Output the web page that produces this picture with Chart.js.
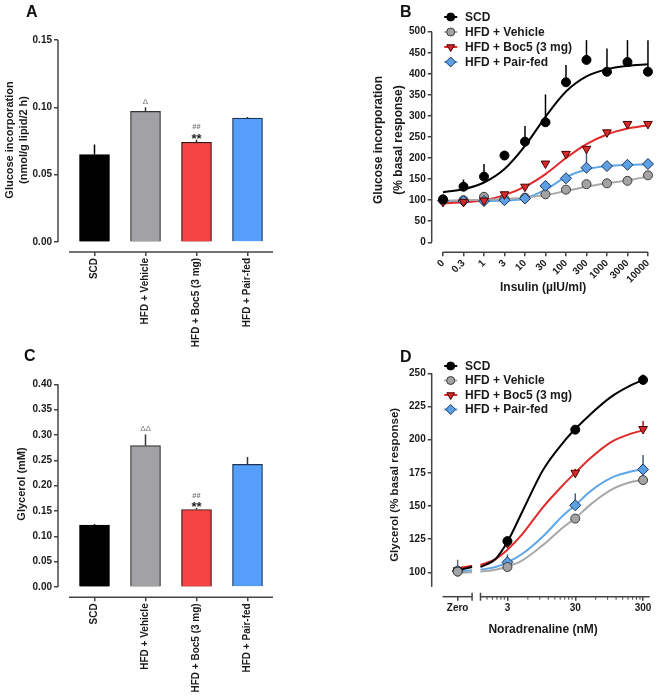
<!DOCTYPE html>
<html>
<head>
<meta charset="utf-8">
<script src="https://cdn.jsdelivr.net/npm/chart.js@4.4.1/dist/chart.umd.min.js"></script>
<style>
  body { margin: 0; background: #fff; }
  #fig { position: relative; width: 661px; height: 697px; overflow: hidden; background: #fff; }
  canvas { position: absolute; }
  .tag { position: absolute; font: bold 16px/16px "Liberation Sans", Arial, sans-serif; color: #111; }
</style>
</head>
<body>
<div id="fig">
  <canvas id="chartA" width="330" height="352" style="left:0;top:0"></canvas>
  <canvas id="chartC" width="330" height="357" style="left:0;top:340px"></canvas>
  <canvas id="chartB" width="331" height="340" style="left:330px;top:0"></canvas>
  <canvas id="chartD" width="331" height="357" style="left:330px;top:340px"></canvas>
  <div class="tag" style="left:26px;top:4px">A</div>
  <div class="tag" style="left:400px;top:4px">B</div>
  <div class="tag" style="left:24px;top:348px">C</div>
  <div class="tag" style="left:400px;top:349px">D</div>
</div>
<script>
// groups
const CATEGORIES = ['SCD', 'HFD + Vehicle', 'HFD + Boc5 (3 mg)', 'HFD + Pair-fed'];

// A - glucose incorporation (bars)
const glucoseMean = [0.065, 0.097, 0.074, 0.092];
const glucoseSem = [0.0074, 0.003, 0.002, 0.0008];
const glucoseSig = ['', 'Δ', '**', ''];
const glucoseHash = ['', '', '##', ''];
const glucoseTicks = [0, 0.05, 0.10, 0.15];

// C - glycerol (bars)
const glycerolMean = [0.122, 0.279, 0.153, 0.242];
const glycerolSem = [0.002, 0.022, 0.003, 0.0145];
const glycerolSig = ['', 'ΔΔ', '**', ''];
const glycerolHash = ['', '', '##', ''];
const glycerolTicks = [0, 0.05, 0.10, 0.15, 0.20, 0.25, 0.30, 0.35, 0.40];

// B - insulin dose response, one point per dose (equally spaced)
const insulinLabels = ['0', '0.3', '1', '3', '10', '30', '100', '300', '1000', '3000', '10000'];
const insScd = [102, 132, 156, 206, 239, 285, 380, 433, 405, 428, 405];
const insScdSem = [4, 17, 30, 4, 37, 66, 41, 47, 55, 52, 75];
const insVeh = [100, 100, 108, 103, 106, 114, 125, 138, 140, 146, 159];
const insVehSem = [3, 3, 3, 3, 3, 4, 4, 4, 4, 4, 4];
const insBoc = [96, 96, 99, 114, 132, 187, 210, 222, 261, 281, 281];
const insBocSem = [3, 3, 3, 3, 4, 5, 5, 6, 6, 6, 5];
const insPair = [99, 98, 98, 100, 104, 134, 152, 177, 181, 184, 186];
const insPairSem = [3, 3, 3, 3, 3, 5, 5, 35, 5, 5, 5];
// fitted curves at each dose
const fitInsScd = [119, 126, 142, 174, 229, 298, 358, 394, 411, 419, 423];
const fitInsVeh = [99, 100, 101, 103, 106, 112, 122, 132, 140, 147, 156];
const fitInsBoc = [93, 95, 100, 112, 132, 162, 200, 233, 256, 270, 278];
const fitInsPair = [98, 98, 98, 99, 104, 125, 155, 173, 181, 184, 185];
const insTicks = [0, 50, 100, 150, 200, 250, 300, 350, 400, 450, 500];

// D - noradrenaline dose response
const noradConc = [0, 3, 30, 300];
const noradLabels = ['Zero', '3', '30', '300'];
const norScd = [101, 123.5, 207.5, 245];
const norScdSem = [3, 2, 2, 4];
const norVeh = [100.5, 104, 140.5, 169.5];
const norVehSem = [9, 2, 2, 2];
const norBoc = [101.5, 122, 175, 208];
const norBocSem = [3, 2, 3, 6];
const norPair = [101, 107.5, 150.5, 177.5];
const norPairSem = [3, 6, 9, 11];
// fitted curves: short piece beside "Zero", then the log part
const fitZeroScd = [101.5, 104];
const fitZeroVeh = [99.5, 100];
const fitZeroBoc = [103, 105];
const fitZeroPair = [100.5, 101.5];
const noradFitConc = [1.2, 2, 3, 5, 10, 20, 30, 50, 100, 200, 300];
const fitNorScd = [104, 110, 123, 146, 177, 198, 208, 219, 232, 241, 245];
const fitNorVeh = [100.5, 102, 104.3, 109, 120.5, 134, 140.7, 151, 162, 168, 169.6];
const fitNorBoc = [105.5, 110, 117, 129, 149, 166, 175, 186, 198, 204.5, 207];
const fitNorPair = [102, 104, 107.5, 114, 127, 143, 150.5, 161, 171, 176, 177.5];
const norTicks = [100, 125, 150, 175, 200, 225, 250];

// broken log axis layout (log10 units); minor ticks sit at 3k x 10^n
const ZERO_POS = -0.257;
const BREAK_LO = -0.044, BREAK_HI = 0.08;
const MINOR_TICKS = [1.5, 1.8, 2.1, 2.4, 2.7, 6, 9, 12, 15, 18, 21, 24, 27, 60, 90, 120, 150, 180, 210, 240, 270];

const FONT = '"Liberation Sans", Arial, Helvetica, sans-serif';
const AXIS = '#444';
Chart.defaults.font.family = FONT;
Chart.defaults.font.size = 10;
Chart.defaults.font.weight = 'bold';
Chart.defaults.color = '#1a1a1a';

const BAR_FILL = ['#000000', '#a2a1a6', '#f44343', '#559ffa'];
const BAR_EDGE = ['#000000', '#333333', '#3a1515', '#1d3553'];

const STYLE = {
  scd:  { shape: 'circle', rot: 0, r: 4.5, fill: '#000000', edge: '#000000', line: '#000000', err: '#000000' },
  veh:  { shape: 'circle', rot: 0, r: 4.5, fill: '#a3a3a3', edge: '#3a3a3a', line: '#a8a8a8', err: '#666666' },
  boc:  { shape: 'triangle', rot: 180, r: 5, fill: '#d62b2b', edge: '#4a0000', line: '#e02a2a', err: '#a01818' },
  pair: { shape: 'rectRot', rot: 0, r: 5.5, fill: '#5c9fe3', edge: '#1d3657', line: '#5ea6ea', err: '#44627f' }
};

function line(ctx, x1, y1, x2, y2) {
  ctx.beginPath(); ctx.moveTo(x1, y1); ctx.lineTo(x2, y2); ctx.stroke();
}

// prism style detached axes
const axisLines = {
  id: 'axisLines',
  beforeDatasetsDraw(chart, args, o) {
    const { ctx, chartArea, scales: { x, y } } = chart;
    ctx.save();
    ctx.strokeStyle = AXIS;
    ctx.lineWidth = 1.5;
    line(ctx, chartArea.left, y.getPixelForValue(o.yFrom), chartArea.left, y.getPixelForValue(o.yTo));
    const by = chartArea.bottom;
    o.xSegments.forEach(([a, b]) => line(ctx, x.getPixelForValue(a), by, x.getPixelForValue(b), by));
    (o.xCaps || []).forEach(v => { const px = x.getPixelForValue(v); line(ctx, px, by - 4, px, by + 4); });
    ctx.lineWidth = 1;
    (o.xMinor || []).forEach(v => { const px = x.getPixelForValue(v); line(ctx, px, by, px, by + 3); });
    ctx.restore();
  }
};

// upward error bars
const errorBars = {
  id: 'errorBars',
  beforeDatasetsDraw(chart) {
    const { ctx, scales: { y } } = chart;
    chart.data.datasets.forEach((ds, di) => {
      if (!ds.sem) return;
      const meta = chart.getDatasetMeta(di);
      ctx.save();
      ctx.lineWidth = 1.5;
      meta.data.forEach((el, i) => {
        const e = ds.sem[i];
        if (!e) return;
        ctx.strokeStyle = Array.isArray(ds.errColor) ? ds.errColor[i] : ds.errColor;
        line(ctx, el.x, el.y, el.x, y.getPixelForValue(ds.data[i].y + e));
      });
      ctx.restore();
    });
  }
};

// Δ, ** and ## above bars
const sigMarks = {
  id: 'sigMarks',
  afterDatasetsDraw(chart) {
    const { ctx, scales: { y } } = chart;
    chart.data.datasets.forEach((ds, di) => {
      if (!ds.sig) return;
      chart.getDatasetMeta(di).data.forEach((el, i) => {
        const top = y.getPixelForValue(ds.data[i].y + (ds.sem[i] || 0));
        ctx.save();
        ctx.textAlign = 'center';
        const s = ds.sig[i];
        if (s.includes('Δ')) {
          ctx.fillStyle = '#777';
          ctx.font = '8px ' + FONT;
          ctx.textBaseline = 'middle';
          ctx.fillText(s, el.x, top - 6);
        } else if (s) {
          ctx.fillStyle = '#222';
          ctx.font = 'bold 13px ' + FONT;
          ctx.textBaseline = 'alphabetic';
          ctx.fillText(s, el.x, top + 3.5);
        }
        if (ds.hash[i]) {
          ctx.fillStyle = '#777';
          ctx.font = 'bold 7.5px ' + FONT;
          ctx.textBaseline = 'middle';
          ctx.fillText(ds.hash[i], el.x, top - 12.5);
        }
        ctx.restore();
      });
    });
  }
};

// legend: line segment + marker + label
const seriesLegend = {
  id: 'seriesLegend',
  afterDraw(chart, args, o) {
    const ctx = chart.ctx;
    const items = chart.data.datasets.filter(d => d.label).sort((a, b) => a.rank - b.rank);
    items.forEach((ds, k) => {
      const y = o.y + k * o.dy;
      ctx.save();
      ctx.strokeStyle = ds.lineColor;
      ctx.lineWidth = 2;
      line(ctx, o.x - 6.5, y, o.x + 6.5, y);
      ctx.fillStyle = ds.pointBackgroundColor;
      ctx.strokeStyle = ds.pointBorderColor;
      ctx.lineWidth = 1;
      const opts = { pointStyle: ds.pointStyle, rotation: ds.pointRotation, radius: ds.pointRadius - 0.5, borderWidth: 1 };
      if (Chart.helpers && Chart.helpers.drawPoint) {
        Chart.helpers.drawPoint(ctx, opts, o.x, y);
      } else {
        ctx.beginPath(); ctx.arc(o.x, y, opts.radius, 0, Math.PI * 2); ctx.fill(); ctx.stroke();
      }
      ctx.fillStyle = '#1a1a1a';
      ctx.font = 'bold 12px ' + FONT;
      ctx.textAlign = 'left';
      ctx.textBaseline = 'middle';
      ctx.fillText(ds.label, o.textX, y + 0.5);
      ctx.restore();
    });
  }
};

const tickGrid = { drawOnChartArea: false, drawTicks: true, tickLength: 4, color: AXIS, lineWidth: 1.5, offset: false };

function barChart(id, o) {
  return new Chart(document.getElementById(id), {
    type: 'bar',
    data: {
      datasets: [{
        data: o.mean.map((v, i) => ({ x: i, y: v })),
        sem: o.sem, sig: o.sig, hash: o.hash,
        backgroundColor: BAR_FILL, borderColor: BAR_EDGE, borderWidth: 1.2,
        barThickness: 30, errColor: ['#000', '#333', '#333', '#333']
      }]
    },
    options: {
      responsive: false, animation: false, events: [],
      layout: { padding: { top: o.top, left: 0, right: 57, bottom: 0 } },
      scales: {
        x: {
          type: 'linear', min: -0.7157, max: 3.5, offset: false, bounds: 'data',
          afterBuildTicks: s => { s.ticks = CATEGORIES.map((_, i) => ({ value: i })); },
          afterFit: s => { s.height = o.xHeight; },
          grid: tickGrid, border: { display: false },
          ticks: { autoSkip: false, minRotation: 90, maxRotation: 90, padding: 2, callback: v => CATEGORIES[v] }
        },
        y: {
          type: 'linear', min: o.min, max: o.max, bounds: 'data',
          afterBuildTicks: s => { s.ticks = o.ticks.map(v => ({ value: v })); },
          afterFit: s => { s.width = 58; },
          grid: tickGrid, border: { display: false },
          ticks: { padding: 2, callback: v => v.toFixed(2) },
          title: { display: true, text: o.title, color: '#1a1a1a', font: { size: 11, weight: 'bold', lineHeight: 1.27 }, padding: { top: o.titlePad, bottom: 0 } }
        }
      },
      plugins: {
        legend: { display: false }, tooltip: { enabled: false },
        axisLines: { yFrom: 0, yTo: o.ticks[o.ticks.length - 1], xSegments: [[-0.5, 3.5]] }
      }
    },
    plugins: [axisLines, errorBars, sigMarks]
  });
}

function pointSet(label, st, xs, ys, sem, rank, order) {
  return {
    label, rank, order, sem,
    data: xs.map((x, i) => ({ x, y: ys[i] })),
    showLine: false, clip: false,
    pointStyle: st.shape, pointRotation: st.rot, pointRadius: st.r,
    pointBackgroundColor: st.fill, pointBorderColor: st.edge, pointBorderWidth: 1,
    lineColor: st.line, errColor: st.err
  };
}
function curveSet(st, pts) {
  return {
    data: pts, showLine: true, pointRadius: 0, borderColor: st.line, borderWidth: 2,
    cubicInterpolationMode: 'monotone', spanGaps: false, fill: false, clip: false, order: 10
  };
}

barChart('chartA', {
  mean: glucoseMean, sem: glucoseSem, sig: glucoseSig, hash: glucoseHash, ticks: glucoseTicks,
  min: -0.00743, max: 0.15891, top: 28, xHeight: 100,
  title: ['Glucose incorporation', '(nmol/g lipid/2 h)'], titlePad: 3.4
});

barChart('chartC', {
  mean: glycerolMean, sem: glycerolSem, sig: glycerolSig, hash: glycerolHash, ticks: glycerolTicks,
  min: -0.02033, max: 0.42684, top: 30.7, xHeight: 99.7,
  title: 'Glycerol (mM)', titlePad: 15.4
});

// B
const insIdx = insulinLabels.map((_, i) => i);
new Chart(document.getElementById('chartB'), {
  type: 'scatter',
  data: {
    datasets: [
      pointSet('SCD', STYLE.scd, insIdx, insScd, insScdSem, 0, 0),
      pointSet('HFD + Vehicle', STYLE.veh, insIdx, insVeh, insVehSem, 1, 3),
      pointSet('HFD + Boc5 (3 mg)', STYLE.boc, insIdx, insBoc, insBocSem, 2, 1),
      pointSet('HFD + Pair-fed', STYLE.pair, insIdx, insPair, insPairSem, 3, 2),
      curveSet(STYLE.scd, insIdx.map((x, i) => ({ x, y: fitInsScd[i] }))),
      curveSet(STYLE.veh, insIdx.map((x, i) => ({ x, y: fitInsVeh[i] }))),
      curveSet(STYLE.boc, insIdx.map((x, i) => ({ x, y: fitInsBoc[i] }))),
      curveSet(STYLE.pair, insIdx.map((x, i) => ({ x, y: fitInsPair[i] })))
    ]
  },
  options: {
    responsive: false, animation: false, events: [],
    layout: { padding: { top: 27.7, left: 0, right: 1, bottom: 44.8 } },
    scales: {
      x: {
        type: 'linear', min: -0.552, max: 10.319, offset: false, bounds: 'data',
        afterBuildTicks: s => { s.ticks = insIdx.map(v => ({ value: v })); },
        afterFit: s => { s.height = 42.9; },
        grid: tickGrid, border: { display: false },
        ticks: { autoSkip: false, minRotation: 45, maxRotation: 45, padding: 1, callback: v => insulinLabels[v] },
        title: { display: true, text: 'Insulin (µIU/ml)', color: '#1a1a1a', font: { size: 12, weight: 'bold' }, padding: 0 }
      },
      y: {
        type: 'linear', min: -23.74, max: 509.5, bounds: 'data',
        afterBuildTicks: s => { s.ticks = insTicks.map(v => ({ value: v })); },
        afterFit: s => { s.width = 101.7; },
        grid: tickGrid, border: { display: false },
        ticks: { padding: 2 },
        title: { display: true, text: ['Glucose incorporation', '(% basal response)'], color: '#1a1a1a', font: { size: 12, weight: 'bold', lineHeight: 1.667 }, padding: { top: 38.3, bottom: 0 } }
      }
    },
    plugins: {
      legend: { display: false }, tooltip: { enabled: false },
      axisLines: { yFrom: 0, yTo: 500, xSegments: [[0, 10]] },
      seriesLegend: { x: 120.7, textX: 135, y: 17, dy: 15 }
    }
  },
  plugins: [axisLines, errorBars, seriesLegend]
});

// D
const norX = noradConc.map(c => (c === 0 ? ZERO_POS : Math.log10(c)));
const zeroSeg = [ZERO_POS, BREAK_LO];
const fitX = noradFitConc.map(c => Math.log10(c));
function brokenCurve(zeroVals, vals) {
  return zeroSeg.map((x, i) => ({ x, y: zeroVals[i] }))
    .concat([{ x: (BREAK_LO + BREAK_HI) / 2, y: null }])
    .concat(fitX.map((x, i) => ({ x, y: vals[i] })));
}
new Chart(document.getElementById('chartD'), {
  type: 'scatter',
  data: {
    datasets: [
      pointSet('SCD', STYLE.scd, norX, norScd, norScdSem, 0, 2),
      pointSet('HFD + Vehicle', STYLE.veh, norX, norVeh, norVehSem, 1, 0),
      pointSet('HFD + Boc5 (3 mg)', STYLE.boc, norX, norBoc, norBocSem, 2, 3),
      pointSet('HFD + Pair-fed', STYLE.pair, norX, norPair, norPairSem, 3, 1),
      curveSet(STYLE.scd, brokenCurve(fitZeroScd, fitNorScd)),
      curveSet(STYLE.veh, brokenCurve(fitZeroVeh, fitNorVeh)),
      curveSet(STYLE.boc, brokenCurve(fitZeroBoc, fitNorBoc)),
      curveSet(STYLE.pair, brokenCurve(fitZeroPair, fitNorPair))
    ]
  },
  options: {
    responsive: false, animation: false, events: [],
    layout: { padding: { top: 33, left: 0, right: 1, bottom: 59.8 } },
    scales: {
      x: {
        type: 'linear', min: -0.6395, max: 2.6455, offset: false, bounds: 'data',
        afterBuildTicks: s => { s.ticks = norX.map(v => ({ value: v })); },
        afterFit: s => { s.height = 40.5; },
        grid: tickGrid, border: { display: false },
        ticks: { autoSkip: false, minRotation: 0, maxRotation: 0, padding: 2, callback: (v, i) => noradLabels[i] },
        title: { display: true, text: 'Noradrenaline (nM)', color: '#1a1a1a', font: { size: 12, weight: 'bold' }, padding: 0 }
      },
      y: {
        type: 'linear', min: 81.61, max: 250.22, bounds: 'data',
        afterBuildTicks: s => { s.ticks = norTicks.map(v => ({ value: v })); },
        afterFit: s => { s.width = 101.7; },
        grid: tickGrid, border: { display: false },
        ticks: { padding: 2 },
        title: { display: true, text: 'Glycerol (% basal response)', color: '#1a1a1a', font: { size: 11.5, weight: 'bold' }, padding: { top: 58, bottom: 0 } }
      }
    },
    plugins: {
      legend: { display: false }, tooltip: { enabled: false },
      axisLines: {
        yFrom: 89, yTo: 250,
        xSegments: [[-0.48, BREAK_LO], [BREAK_HI, 2.575]],
        xCaps: [BREAK_LO, BREAK_HI],
        xMinor: MINOR_TICKS.map(c => Math.log10(c))
      },
      seriesLegend: { x: 120.7, textX: 135, y: 26, dy: 14.5 }
    }
  },
  plugins: [axisLines, errorBars, seriesLegend]
});
</script>
</body>
</html>
